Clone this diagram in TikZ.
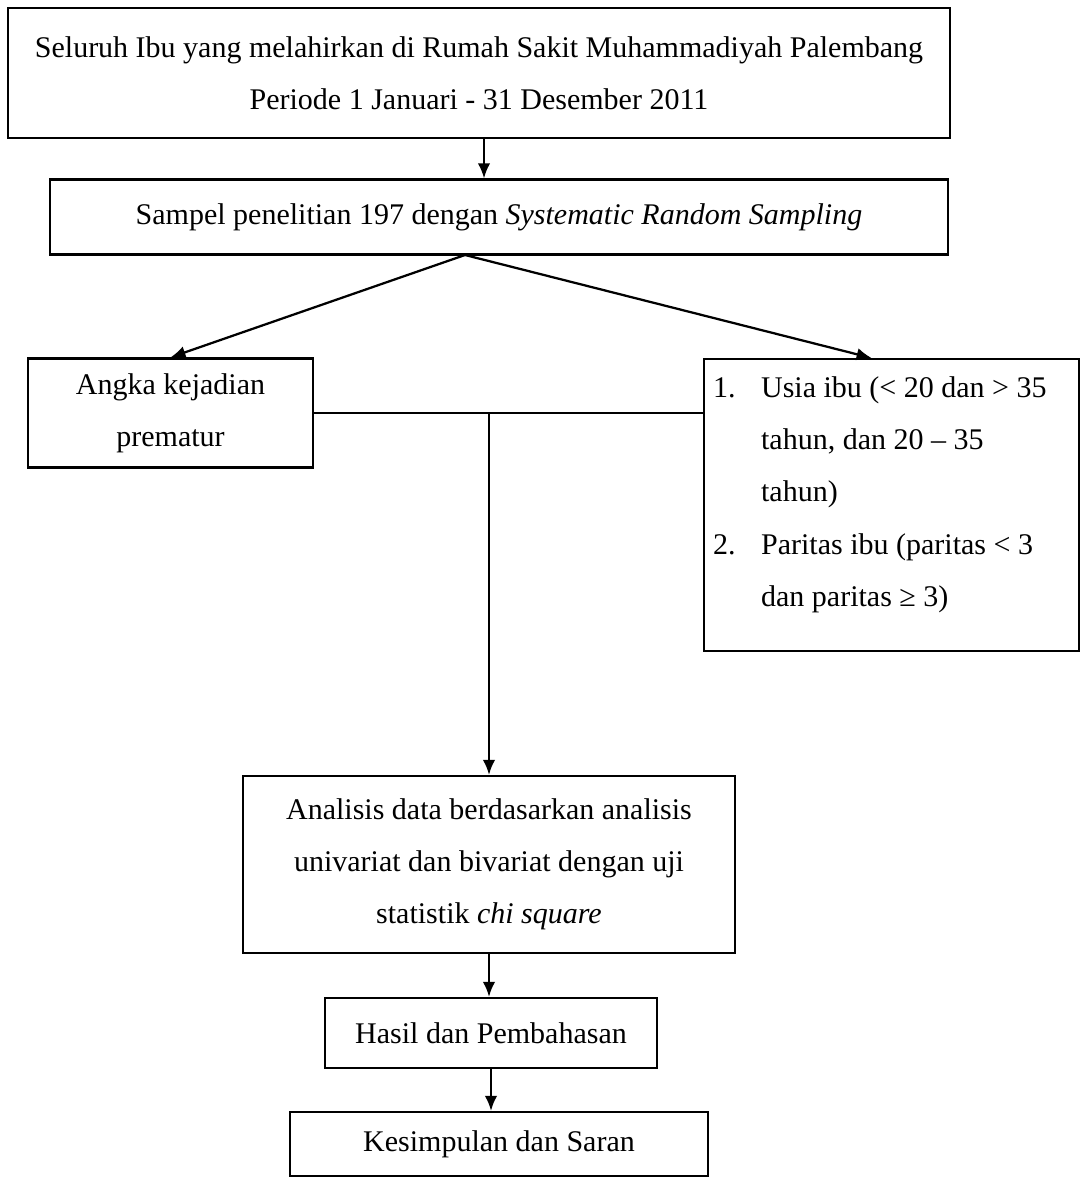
\documentclass[tikz,border=0pt]{standalone}
\usepackage{fontspec}
\setmainfont{Liberation Serif}
\usetikzlibrary{arrows.meta}

\begin{document}
\begin{tikzpicture}[x=0.4pt, y=-0.4pt, >={Latex[length=6pt,width=5pt]}, line width=0.9pt,
		box/.style={draw, rectangle, align=center, inner sep=0pt, font=\fontsize{12}{20.8}\selectfont}]

		\useasboundingbox (0,0) rectangle (1081,1180);

		% kotak alur penelitian
		\node[box, minimum width=376.8pt, minimum height=52pt] (populasi) at (479,73)
			{Seluruh Ibu yang melahirkan di Rumah Sakit Muhammadiyah Palembang\\
			 Periode 1 Januari - 31 Desember 2011};
		\node[box, minimum width=359.2pt, minimum height=30pt] (sampel) at (499,217)
			{Sampel penelitian 197 dengan \textit{Systematic Random Sampling}};
		\node[box, minimum width=114pt, minimum height=43.6pt] (angka) at (170.5,413)
			{Angka kejadian\\ prematur};
		\node[box, anchor=north west, align=left, inner xsep=3.6pt, inner ysep=3pt] (faktor) at (703,358)
			{\parbox[t][110.8pt][t]{142.8pt}{\fontsize{12}{20.9}\selectfont\raggedright
			 \vspace*{4pt}%
			 \makebox[19.2pt][l]{1.}Usia ibu (< 20 dan > 35\\
			 \hspace*{19.2pt}tahun, dan 20 – 35\\
			 \hspace*{19.2pt}tahun)\\
			 \makebox[19.2pt][l]{2.}Paritas ibu (paritas < 3\\
			 \hspace*{19.2pt}dan paritas ≥ 3)}};
		\node[box, minimum width=196.8pt, minimum height=70.8pt] (analisis) at (489,864.5)
			{Analisis data berdasarkan analisis\\ univariat dan bivariat dengan uji\\
			 statistik \textit{chi square}};
		\node[box, minimum width=132.8pt, minimum height=28pt] (hasil) at (491,1033)
			{Hasil dan Pembahasan};
		\node[box, minimum width=167.2pt, minimum height=25.6pt] (simpulan) at (499,1144)
			{Kesimpulan dan Saran};

		\coordinate (cabang) at (465,255);

		% panah
		\draw[->] ([xshift=2pt]populasi.south) -- ([xshift=2pt]populasi.south |- sampel.north);
		\draw[->] (cabang) -- (angka.north);
		\draw[->] (cabang) -- ([xshift=-8pt]faktor.north);
		\draw (angka.east) -- (angka.east -| faktor.west);
		\draw[->] (analisis.north |- angka.east) -- (analisis.north);
		\draw[->] (analisis.south) -- (analisis.south |- hasil.north);
		\draw[->] (hasil.south) -- (hasil.south |- simpulan.north);
	\end{tikzpicture}
\end{document}
